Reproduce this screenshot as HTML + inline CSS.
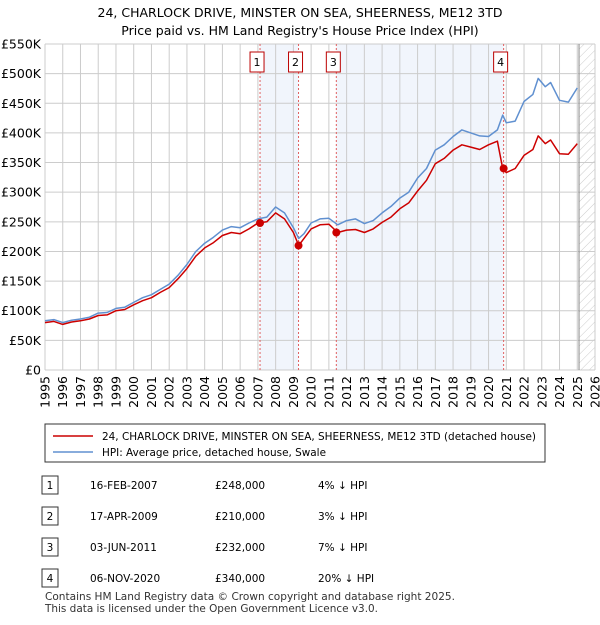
<!DOCTYPE html>
<html><head><meta charset="utf-8"><style>
body{margin:0;background:#fff;font-family:"Liberation Sans",sans-serif;}
svg text{font-family:"DejaVu Sans","Liberation Sans",sans-serif;}
</style></head><body>
<svg id="c" width="600" height="620" xmlns="http://www.w3.org/2000/svg">
<defs><pattern id="hatch" width="6" height="6" patternUnits="userSpaceOnUse" patternTransform="rotate(45)"><line x1="0" y1="0" x2="0" y2="6" stroke="#ccc" stroke-width="1"/></pattern></defs>
<text x="300" y="17" text-anchor="middle" font-size="12.5">24, CHARLOCK DRIVE, MINSTER ON SEA, SHEERNESS, ME12 3TD</text>
<text x="300" y="35" text-anchor="middle" font-size="12.5">Price paid vs. HM Land Registry's House Price Index (HPI)</text>
<g id="plot"></g>
<g id="legend">
<rect x="45" y="424" width="500" height="38" fill="#fff" stroke="#333"/>
<line x1="53" y1="436" x2="93" y2="436" stroke="#cc0000" stroke-width="1.5"/>
<text x="102" y="440" font-size="10.5" textLength="434" lengthAdjust="spacingAndGlyphs">24, CHARLOCK DRIVE, MINSTER ON SEA, SHEERNESS, ME12 3TD (detached house)</text>
<line x1="53" y1="452" x2="93" y2="452" stroke="#6090d0" stroke-width="1.5"/>
<text x="102" y="456" font-size="10.5" textLength="224" lengthAdjust="spacingAndGlyphs">HPI: Average price, detached house, Swale</text>
</g>
<g id="table" font-size="11"></g>
<text x="45" y="600" font-size="10.5" textLength="410" lengthAdjust="spacingAndGlyphs" fill="#333">Contains HM Land Registry data © Crown copyright and database right 2025.</text>
<text x="45" y="612" font-size="10.5" textLength="333" lengthAdjust="spacingAndGlyphs" fill="#333">This data is licensed under the Open Government Licence v3.0.</text>
</svg>
<script>
const times=[1995,1995.5,1996,1996.5,1997,1997.5,1998,1998.5,1999,1999.5,2000,2000.5,2001,2001.5,2002,2002.5,2003,2003.5,2004,2004.5,2005,2005.5,2006,2006.5,2007,2007.5,2008,2008.5,2009,2009.3,2009.6,2010,2010.5,2011,2011.5,2012,2012.5,2013,2013.5,2014,2014.5,2015,2015.5,2016,2016.5,2017,2017.5,2018,2018.5,2019,2019.5,2020,2020.5,2020.8,2021,2021.5,2022,2022.5,2022.8,2023.2,2023.5,2024,2024.5,2025];
const hpiValues=[83,85,80,84,86,89,96,97,104,106,114,122,127,136,145,160,178,200,214,224,236,242,240,248,255,258,275,265,240,222,230,248,255,256,245,252,255,247,252,265,276,290,300,324,340,371,380,394,405,400,395,394,405,430,417,420,453,465,492,478,485,455,452,476];
const priceValues=[80,82,77,81,83,86,92,93,100,102,110,117,122,131,139,154,171,192,206,215,227,232,230,238,248,250,265,255,232,210,222,238,245,246,232,236,237,232,238,249,258,272,282,302,320,348,357,371,380,376,372,380,386,340,333,340,362,372,395,382,388,365,364,382];
const saleLabels=["1","2","3","4"];
const saleTimes=[2007.12,2009.29,2011.42,2020.85];
const salePrices=[248,210,232,340];
const saleDates=["16-FEB-2007","17-APR-2009","03-JUN-2011","06-NOV-2020"];
const salePriceText=["£248,000","£210,000","£232,000","£340,000"];
const saleHpiText=["4% ↓ HPI","3% ↓ HPI","7% ↓ HPI","20% ↓ HPI"];
const yTicks=[0,50,100,150,200,250,300,350,400,450,500,550];
const yTickLabels=["£0","£50K","£100K","£150K","£200K","£250K","£300K","£350K","£400K","£450K","£500K","£550K"];
const xTicks=[1995,1996,1997,1998,1999,2000,2001,2002,2003,2004,2005,2006,2007,2008,2009,2010,2011,2012,2013,2014,2015,2016,2017,2018,2019,2020,2021,2022,2023,2024,2025,2026];
const hatchStart=2025.1;

const X0=45,X1=595,Y0=370,Y1=44;
const xs=t=>X0+(t-1995)/31*(X1-X0);
const ys=v=>Y0-v/550*(Y0-Y1);
const NS="http://www.w3.org/2000/svg";
const plot=document.getElementById('plot');
function mk(tag,attrs,parent){const e=document.createElementNS(NS,tag);for(const k in attrs)e.setAttribute(k,attrs[k]);(parent||plot).appendChild(e);return e;}

let r;
r=mk('rect',{x:X0,y:Y1,width:X1-X0,height:Y0-Y1,fill:'#fff'});


for(const [a,b] of [[0,1],[2,3]]){
 r=mk('rect',{x:xs(saleTimes[a]),y:Y1,width:xs(saleTimes[b])-xs(saleTimes[a]),height:Y0-Y1,fill:'#eef3fc',opacity:0.85});
 
 
}
r=mk('rect',{x:xs(hatchStart),y:Y1,width:X1-xs(hatchStart),height:Y0-Y1,fill:'url(#hatch)'});


yTicks.forEach((v,i)=>{
 let l=mk('line',{x1:X0,x2:X1,y1:ys(v),y2:ys(v),stroke:'#ccc','stroke-width':1});
 
 
 let t=mk('text',{x:X0-4,y:ys(v)+4.5,'text-anchor':'end','font-size':12.5});
 t.textContent=yTickLabels[i];
 
 
});
xTicks.forEach(v=>{
 let l=mk('line',{x1:xs(v),x2:xs(v),y1:Y1,y2:Y0,stroke:'#ccc','stroke-width':1});
 
 
 let t=mk('text',{x:0,y:0,'text-anchor':'end','font-size':12.5,transform:`translate(${xs(v)+4.5},${Y0+6}) rotate(-90)`});
 t.textContent=v;
 
 
});
let l=mk('line',{x1:xs(hatchStart),x2:xs(hatchStart),y1:Y1,y2:Y0,stroke:'#888','stroke-width':1});


saleTimes.forEach((t,i)=>{
 let v=mk('line',{x1:xs(t),x2:xs(t),y1:Y1,y2:Y0,stroke:'#e06060','stroke-width':1,'stroke-dasharray':'2,2'});
 
 
 let b=mk('rect',{x:xs(t)-10,y:52,width:14,height:20,fill:'#fff',stroke:'#b00'});
 
 
 let tx=mk('text',{x:xs(t)-3,y:66,'text-anchor':'middle','font-size':11});
 tx.textContent=saleLabels[i];
 
 
});
function path(vals,color,name){
 const d=vals.map((v,i)=>(i?'L':'M')+xs(times[i]).toFixed(1)+','+ys(v).toFixed(1)).join('');
 const p=mk('path',{d:d,fill:'none',stroke:color,'stroke-width':1.5,'stroke-linejoin':'round'});
 
 
}
path(hpiValues,'#6090d0','hpi-line');
path(priceValues,'#cc0000','price-paid-line');
saleTimes.forEach((t,i)=>{
 const c=mk('circle',{cx:xs(t),cy:ys(salePrices[i]),r:4,fill:'#cc0000'});
 
 
});
const tb=document.getElementById('table');
saleLabels.forEach((s,i)=>{
 const y=487+i*31;
 let b=mk('rect',{x:42,y:y-11,width:16,height:18,fill:'#fff',stroke:'#333'},tb);
 
 
 const cells=[[50,s,'middle'],[90,saleDates[i],'start'],[215,salePriceText[i],'start'],[318,saleHpiText[i],'start']];
 cells.forEach(([x,txt,a],j)=>{
  const t=mk('text',{x:x,y:y+2,'text-anchor':a,'font-size':10.5},tb);
  t.textContent=txt;
  
  
 });
});
</script>
</body></html>
